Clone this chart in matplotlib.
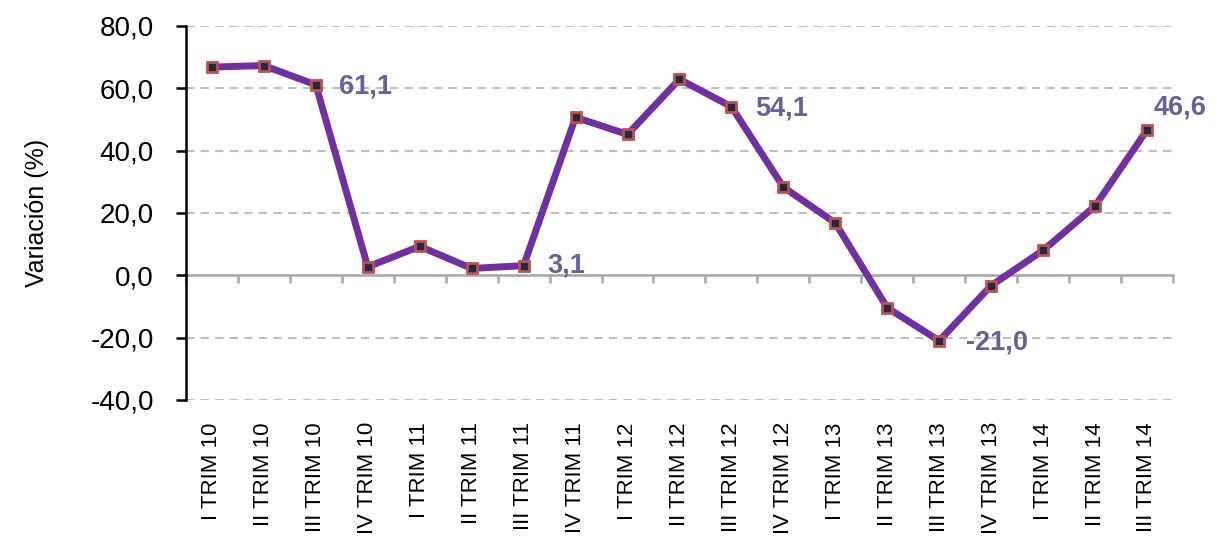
import matplotlib
matplotlib.use('Agg')
import matplotlib.pyplot as plt
import numpy as np

quarters = ['I TRIM 10', 'II TRIM 10', 'III TRIM 10', 'IV TRIM 10',
            'I TRIM 11', 'II TRIM 11', 'III TRIM 11', 'IV TRIM 11',
            'I TRIM 12', 'II TRIM 12', 'III TRIM 12', 'IV TRIM 12',
            'I TRIM 13', 'II TRIM 13', 'III TRIM 13', 'IV TRIM 13',
            'I TRIM 14', 'II TRIM 14', 'III TRIM 14']
variation = [66.8, 67.3, 61.1, 2.7, 9.3, 2.2, 3.1, 50.7, 45.2, 62.9,
             54.1, 28.3, 16.8, -10.4, -21.0, -3.3, 8.0, 22.2, 46.6]
labelled_idx = [2, 6, 10, 14, 18]
y_ticks = [-40, -20, 0, 20, 40, 60, 80]

plt.rcParams['font.family'] = ['Liberation Sans', 'DejaVu Sans']

fig = plt.figure(figsize=(12.17, 5.43), dpi=100)
ax = fig.add_axes([0.1528, 0.2634, 0.811, 0.6888])

x = np.arange(len(quarters))
ax.plot(x, variation, color='#7030A0', lw=5, zorder=3,
        marker='s', markersize=7.5, markerfacecolor='#1F2A44',
        markeredgecolor='#C0504D', markeredgewidth=2)

# data labels
offsets = {2: (17, -1), 6: (17, 0), 10: (17, -1), 14: (19, -1), 18: (5, 16)}
for i in labelled_idx:
    txt = '{:.1f}'.format(variation[i]).replace('.', ',')
    ax.annotate(txt, (x[i], variation[i]), xytext=offsets[i],
                textcoords='offset points', ha='left', va='center',
                fontsize=19.5, fontweight='bold', color='#63639B', zorder=4)

ax.set_xlim(-0.5, len(quarters) - 0.5)
ax.set_ylim(-40, 80)
ax.set_yticks(y_ticks)
ax.set_yticklabels(['{:.1f}'.format(v).replace('.', ',') for v in y_ticks],
                   fontsize=20)
ax.tick_params(axis='y', length=7, width=1.8, color='black', pad=16)

for v in y_ticks:
    if v != 0:
        ax.axhline(v, color='#BFBFBF', lw=1.5, ls=(0, (4, 3)), zorder=1)

ax.set_xticks(x)
ax.set_xticklabels(quarters, rotation=90, va='top', ha='center', fontsize=16)
ax.tick_params(axis='x', length=0, pad=16)

for s in ['top', 'right', 'bottom']:
    ax.spines[s].set_visible(False)
ax.spines['left'].set_linewidth(1.8)
ax.spines['left'].set_color('black')

# category axis drawn at y = 0
zero_ax = ax.secondary_xaxis(40 / 120)
zero_ax.set_xticks(np.arange(len(quarters) + 1) - 0.5)
zero_ax.set_xticklabels([])
zero_ax.tick_params(axis='x', length=6, width=1.8, color='#A6A6A6', direction='out')
zero_ax.spines['bottom'].set_color('#A6A6A6')
zero_ax.spines['bottom'].set_linewidth(1.8)

ax.set_ylabel('Variación (%)', fontsize=18, labelpad=30)

fig.savefig('out.png', dpi=100)
